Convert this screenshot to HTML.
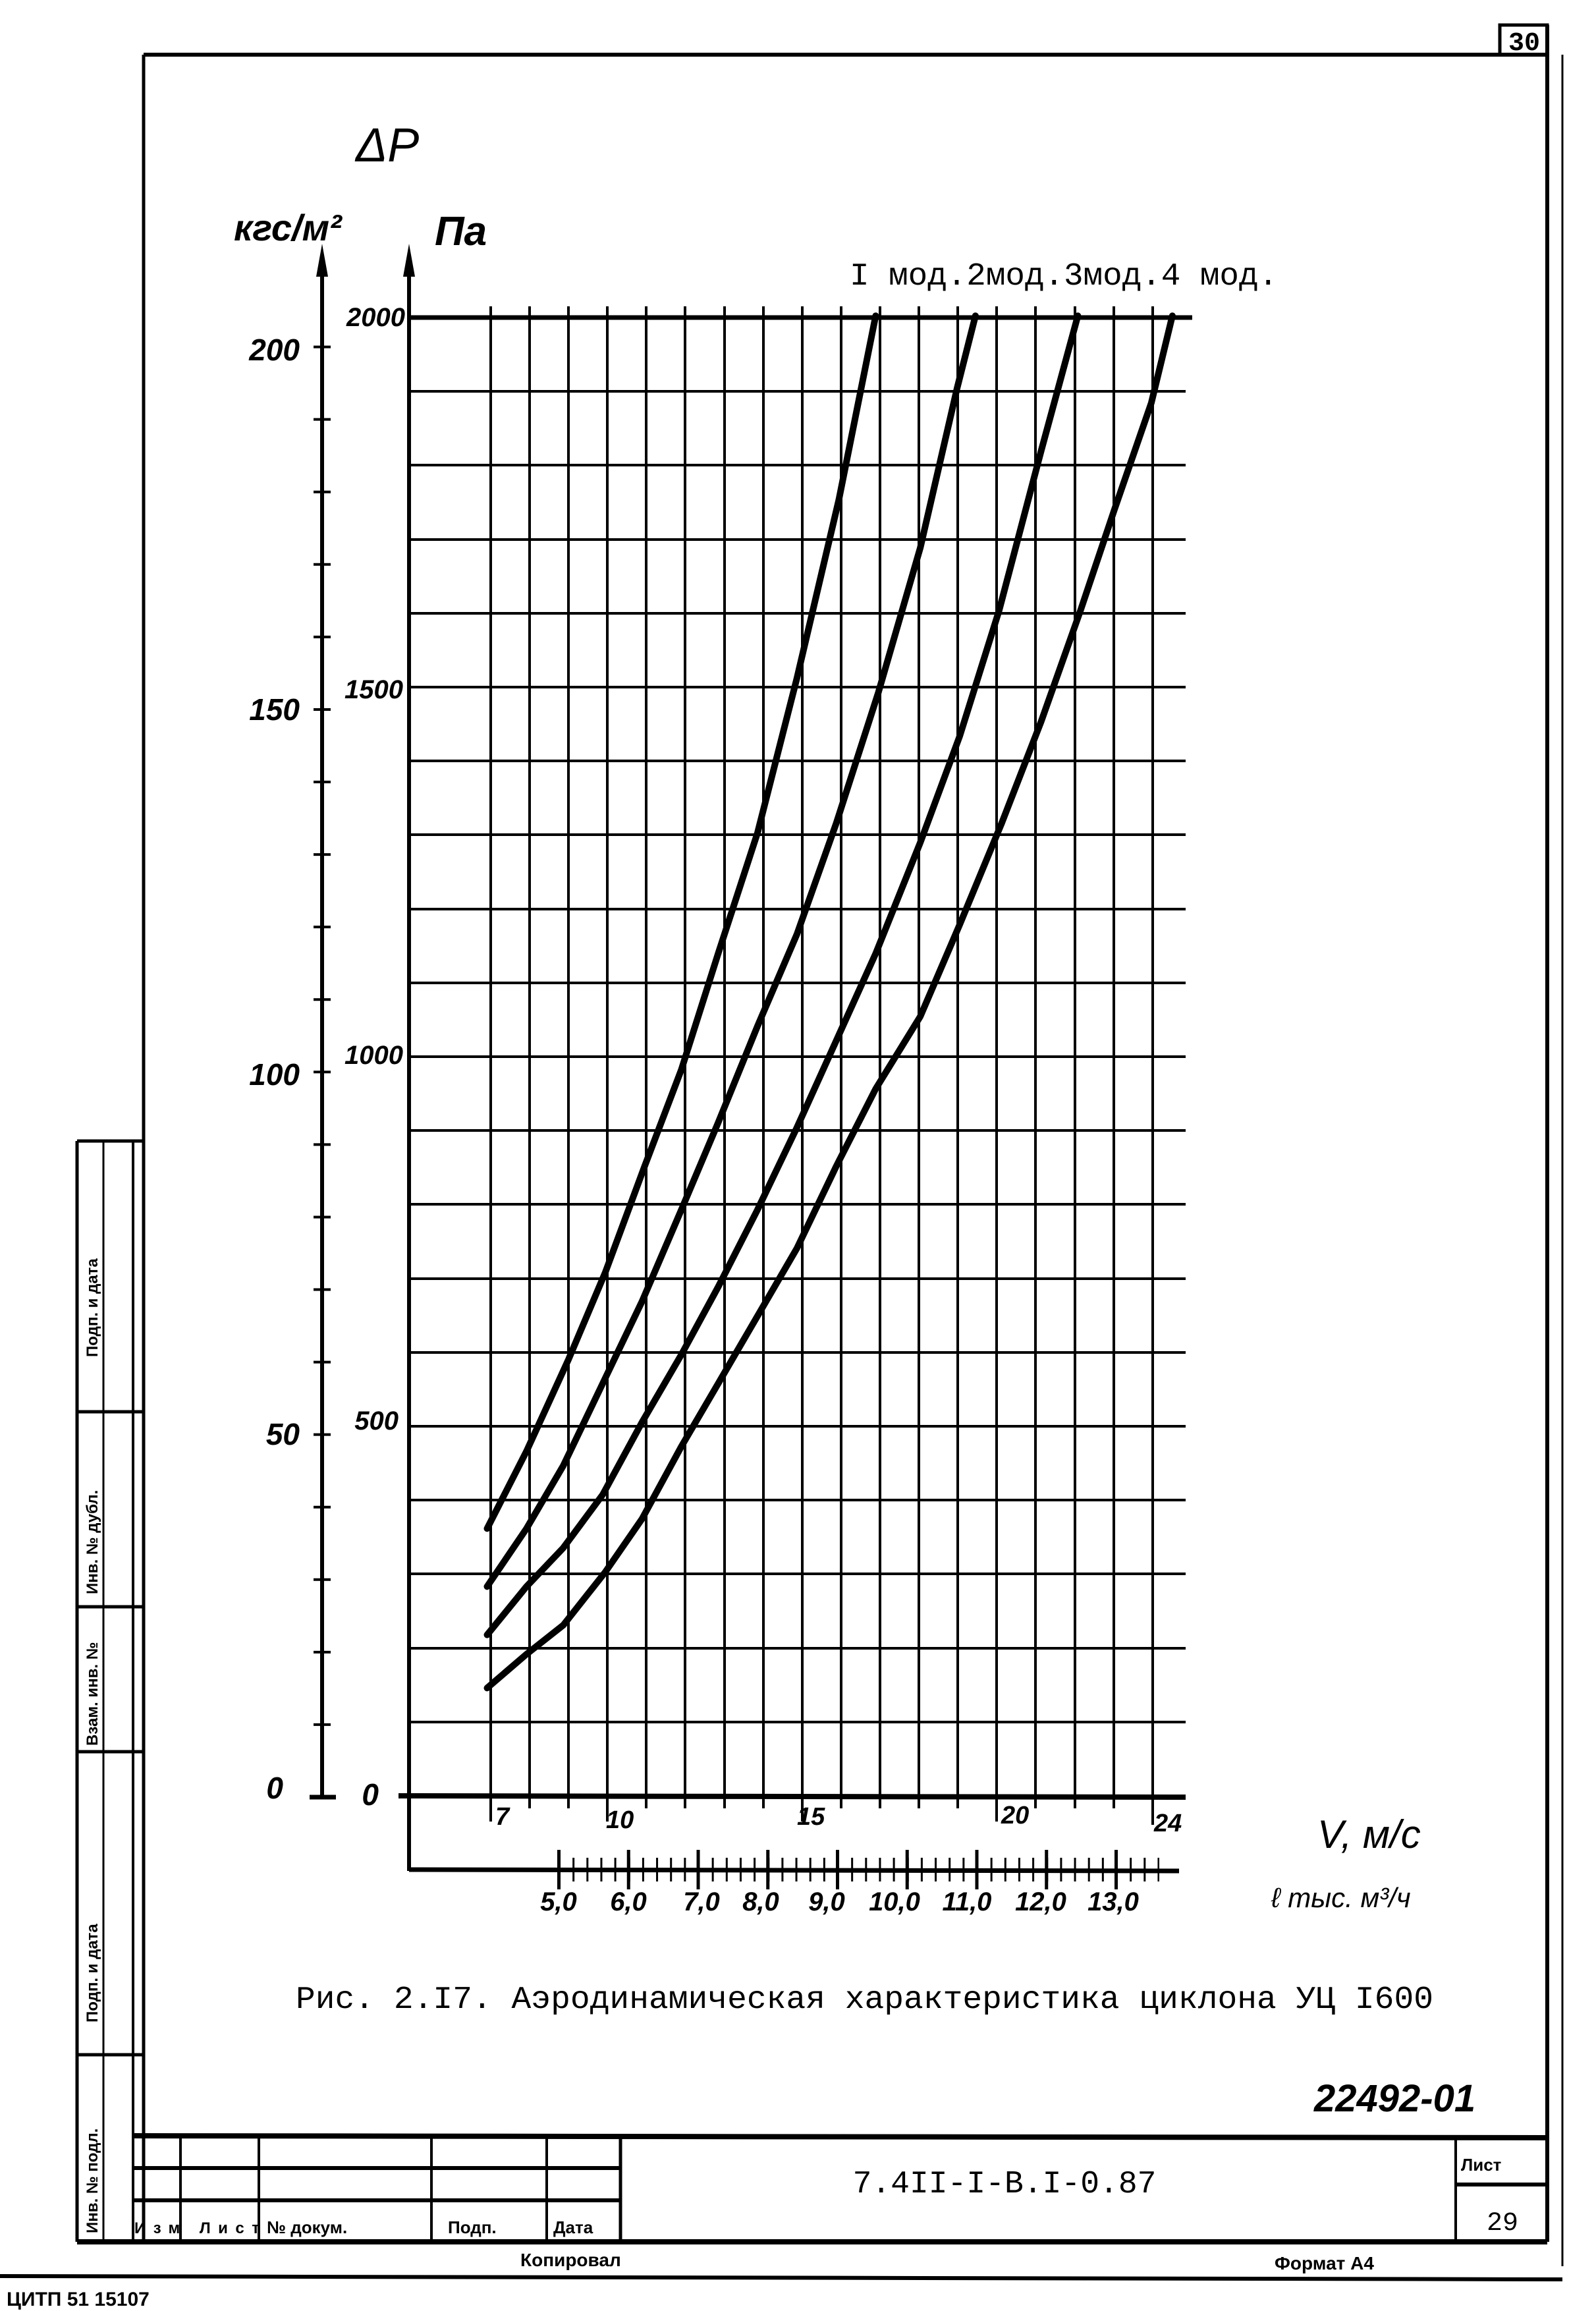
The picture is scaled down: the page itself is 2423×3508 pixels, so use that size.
<!DOCTYPE html>
<html><head><meta charset="utf-8"><style>
html,body{margin:0;padding:0;background:#fff;}
svg{display:block;}
text{fill:#000;}
.m{font-family:"Liberation Mono","DejaVu Sans Mono",monospace;}
.h{font-family:"Liberation Sans","DejaVu Sans",sans-serif;font-style:italic;font-weight:bold;}
.s{font-family:"Liberation Sans","DejaVu Sans",sans-serif;font-weight:bold;}
</style></head><body>
<svg width="2423" height="3508" viewBox="0 0 2423 3508" xmlns="http://www.w3.org/2000/svg">
<rect width="2423" height="3508" fill="#fff"/>
<g stroke="#000" fill="none">
<line x1="218" y1="83" x2="2352" y2="83" stroke-width="6"/>
<line x1="218" y1="83" x2="218" y2="3403" stroke-width="5"/>
<line x1="2349" y1="38" x2="2349" y2="3403" stroke-width="6"/>
<line x1="2372" y1="83" x2="2372" y2="3440" stroke-width="3"/>
<rect x="2277" y="38" width="72" height="45" stroke-width="5"/>
<line x1="117" y1="3403" x2="2349" y2="3403" stroke-width="8"/>
<line x1="0" y1="3455" x2="2372" y2="3460" stroke-width="6"/>
<line x1="117" y1="1732" x2="117" y2="3403" stroke-width="5"/>
<line x1="157" y1="1732" x2="157" y2="3403" stroke-width="3"/>
<line x1="202" y1="1732" x2="202" y2="3403" stroke-width="4"/>
<line x1="117" y1="1732" x2="218" y2="1732" stroke-width="5"/>
<line x1="117" y1="2143" x2="218" y2="2143" stroke-width="5"/>
<line x1="117" y1="2439" x2="218" y2="2439" stroke-width="5"/>
<line x1="117" y1="2659" x2="218" y2="2659" stroke-width="5"/>
<line x1="117" y1="3119" x2="218" y2="3119" stroke-width="5"/>
<line x1="202" y1="3242" x2="2349" y2="3245" stroke-width="8"/>
<line x1="202" y1="3291" x2="942" y2="3291" stroke-width="6"/>
<line x1="202" y1="3340" x2="942" y2="3340" stroke-width="6"/>
<line x1="274" y1="3242" x2="274" y2="3403" stroke-width="4"/>
<line x1="393" y1="3242" x2="393" y2="3403" stroke-width="4"/>
<line x1="655" y1="3242" x2="655" y2="3403" stroke-width="4"/>
<line x1="830" y1="3242" x2="830" y2="3403" stroke-width="4"/>
<line x1="942" y1="3242" x2="942" y2="3403" stroke-width="5"/>
<line x1="2210" y1="3245" x2="2210" y2="3403" stroke-width="4"/>
<line x1="2210" y1="3316" x2="2349" y2="3316" stroke-width="6"/>
</g>
<g class="s" font-size="24">
<text transform="translate(148,2060) rotate(-90)">Подп. и дата</text>
<text transform="translate(148,2420) rotate(-90)">Инв. № дубл.</text>
<text transform="translate(148,2650) rotate(-90)">Взам. инв. №</text>
<text transform="translate(148,3070) rotate(-90)">Подп. и дата</text>
<text transform="translate(148,3390) rotate(-90)">Инв. № подл.</text>
<text x="204" y="3390" font-size="24" textLength="190">Изм Лист</text>
<text x="405" y="3390" font-size="26">№ докум.</text>
<text x="680" y="3390" font-size="26">Подп.</text>
<text x="840" y="3390" font-size="26">Дата</text>
<text x="2218" y="3295" font-size="26">Лист</text>
<text x="790" y="3440" font-size="28">Копировал</text>
<text x="1935" y="3445" font-size="28">Формат А4</text>
<text x="10" y="3500" font-size="30">ЦИТП   51  15107</text>
</g>
<text class="m" x="2257" y="3385" font-size="40">29</text>
<text class="m" x="2290" y="76" font-size="40" font-weight="bold">30</text>
<text class="m" x="1525" y="3328" font-size="48" text-anchor="middle">7.4II-I-B.I-0.87</text>
<text class="h" x="1995" y="3205" font-size="58" font-weight="normal">22492-01</text>
<g stroke="#000" stroke-width="4">
<line x1="745" y1="465" x2="745" y2="2765"/>
<line x1="804" y1="465" x2="804" y2="2745"/>
<line x1="863" y1="465" x2="863" y2="2745"/>
<line x1="922" y1="465" x2="922" y2="2765"/>
<line x1="981" y1="465" x2="981" y2="2745"/>
<line x1="1040" y1="465" x2="1040" y2="2745"/>
<line x1="1100" y1="465" x2="1100" y2="2745"/>
<line x1="1159" y1="465" x2="1159" y2="2745"/>
<line x1="1218" y1="465" x2="1218" y2="2765"/>
<line x1="1277" y1="465" x2="1277" y2="2745"/>
<line x1="1336" y1="465" x2="1336" y2="2745"/>
<line x1="1395" y1="465" x2="1395" y2="2745"/>
<line x1="1454" y1="465" x2="1454" y2="2745"/>
<line x1="1513" y1="465" x2="1513" y2="2765"/>
<line x1="1572" y1="465" x2="1572" y2="2745"/>
<line x1="1632" y1="465" x2="1632" y2="2745"/>
<line x1="1691" y1="465" x2="1691" y2="2745"/>
<line x1="1750" y1="465" x2="1750" y2="2770"/>
</g>
<g stroke="#000" stroke-width="4">
<line x1="621" y1="482" x2="1810" y2="482" stroke-width="7"/>
<line x1="621" y1="594" x2="1800" y2="594"/>
<line x1="621" y1="706" x2="1800" y2="706"/>
<line x1="621" y1="819" x2="1800" y2="819"/>
<line x1="621" y1="931" x2="1800" y2="931"/>
<line x1="621" y1="1043" x2="1800" y2="1043"/>
<line x1="621" y1="1155" x2="1800" y2="1155"/>
<line x1="621" y1="1267" x2="1800" y2="1267"/>
<line x1="621" y1="1380" x2="1800" y2="1380"/>
<line x1="621" y1="1492" x2="1800" y2="1492"/>
<line x1="621" y1="1604" x2="1800" y2="1604"/>
<line x1="621" y1="1716" x2="1800" y2="1716"/>
<line x1="621" y1="1828" x2="1800" y2="1828"/>
<line x1="621" y1="1941" x2="1800" y2="1941"/>
<line x1="621" y1="2053" x2="1800" y2="2053"/>
<line x1="621" y1="2165" x2="1800" y2="2165"/>
<line x1="621" y1="2277" x2="1800" y2="2277"/>
<line x1="621" y1="2389" x2="1800" y2="2389"/>
<line x1="621" y1="2502" x2="1800" y2="2502"/>
<line x1="621" y1="2614" x2="1800" y2="2614"/>
<line x1="605" y1="2726" x2="1800" y2="2728" stroke-width="8"/>
</g>
<g stroke="#000" fill="none">
<line x1="621" y1="390" x2="621" y2="2840" stroke-width="6"/>
<line x1="489" y1="390" x2="489" y2="2726" stroke-width="6"/>
<line x1="470" y1="2728" x2="510" y2="2728" stroke-width="7"/>
<line x1="621" y1="2838" x2="1790" y2="2840" stroke-width="7"/>
</g>
<path d="M621 370 L612 420 L630 420 Z M489 370 L480 420 L498 420 Z" fill="#000"/>
<line x1="489" y1="2730" x2="489" y2="520" stroke="#000" stroke-width="26" stroke-dasharray="4 106.07"/>
<line x1="848" y1="2838" x2="1760" y2="2838" stroke="#000" stroke-width="36" stroke-dasharray="3 18.15"/>
<line x1="846" y1="2838" x2="1760" y2="2838" stroke="#000" stroke-width="60" stroke-dasharray="5 100.75"/>
<g transform="translate(600,450) scale(0.7972,1.4669)" fill="none" stroke="#000" stroke-linejoin="round" stroke-linecap="round">
<polyline vector-effect="non-scaling-stroke" stroke-width="10" points="175,1275 250,1195 330,1100 400,1010 475,900 545,800 615,680 690,555 765,395 845,210 915,20"/>
<polyline vector-effect="non-scaling-stroke" stroke-width="10" points="175,1335 250,1275 320,1210 395,1125 470,1040 545,945 615,855 690,755 765,660 840,545 920,410 1000,260 1070,95 1105,20"/>
<polyline vector-effect="non-scaling-stroke" stroke-width="10" points="175,1385 250,1335 320,1295 395,1240 470,1165 545,1095 615,1025 690,945 765,860 840,770 915,680 1000,565 1075,455 1150,325 1230,160 1300,20"/>
<polyline vector-effect="non-scaling-stroke" stroke-width="10" points="175,1440 250,1405 320,1375 400,1320 470,1265 545,1190 615,1125 690,1055 765,985 840,900 915,820 1000,745 1075,650 1155,545 1230,440 1305,325 1370,220 1440,110 1480,20"/>
</g>
<g class="h">
<text x="540" y="245" font-size="72" font-weight="normal">ΔP</text>
<text x="355" y="365" font-size="56">кгс/м²</text>
<text x="660" y="372" font-size="62">Па</text>
<text x="455" y="547" font-size="46" text-anchor="end">200</text>
<text x="455" y="1093" font-size="46" text-anchor="end">150</text>
<text x="455" y="1647" font-size="46" text-anchor="end">100</text>
<text x="455" y="2193" font-size="46" text-anchor="end">50</text>
<text x="430" y="2730" font-size="46" text-anchor="end">0</text>
<text x="615" y="495" font-size="40" text-anchor="end">2000</text>
<text x="612" y="1060" font-size="40" text-anchor="end">1500</text>
<text x="612" y="1615" font-size="40" text-anchor="end">1000</text>
<text x="605" y="2170" font-size="40" text-anchor="end">500</text>
<text x="575" y="2740" font-size="46" text-anchor="end">0</text>
<text x="752" y="2770" font-size="38">7</text>
<text x="920" y="2775" font-size="38">10</text>
<text x="1210" y="2770" font-size="38">15</text>
<text x="1520" y="2768" font-size="38">20</text>
<text x="1752" y="2780" font-size="38">24</text>
<text x="2000" y="2805" font-size="60" font-weight="normal">V, м/с</text>
<text x="1930" y="2895" font-size="42" font-weight="normal">ℓ тыс. м³/ч</text>
<g font-size="40">
<text x="848" y="2900" text-anchor="middle">5,0</text>
<text x="954" y="2900" text-anchor="middle">6,0</text>
<text x="1065" y="2900" text-anchor="middle">7,0</text>
<text x="1155" y="2900" text-anchor="middle">8,0</text>
<text x="1255" y="2900" text-anchor="middle">9,0</text>
<text x="1358" y="2900" text-anchor="middle">10,0</text>
<text x="1468" y="2900" text-anchor="middle">11,0</text>
<text x="1580" y="2900" text-anchor="middle">12,0</text>
<text x="1690" y="2900" text-anchor="middle">13,0</text>
</g>
</g>
<text class="m" x="1290" y="432" font-size="48" textLength="650" lengthAdjust="spacingAndGlyphs">I мод.2мод.3мод.4 мод.</text>
<text class="m" x="449" y="3048" font-size="48" textLength="1727" lengthAdjust="spacingAndGlyphs">Рис. 2.I7. Аэродинамическая характеристика циклона УЦ I600</text>
</svg>
</body></html>
